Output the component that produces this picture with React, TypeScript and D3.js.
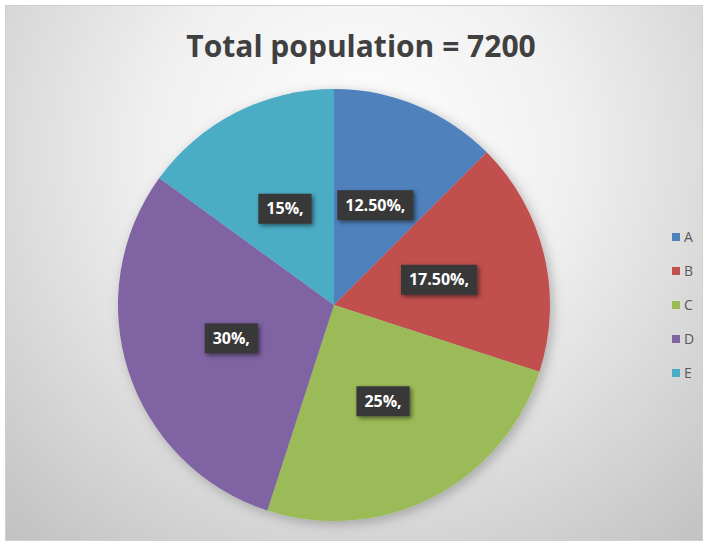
import React, { useEffect, useRef } from 'react';
import * as d3 from 'd3';

const categories = ['A', 'B', 'C', 'D', 'E'];
const shares = [12.5, 17.5, 25, 30, 15];
const labels = ['12.50%,', '17.50%,', '25%,', '30%,', '15%,'];
const colors = ['#4F81BD', '#C0504D', '#9BBB59', '#8064A2', '#4BACC6'];
const title = 'Total population = 7200';

const App = () => {
  const svgRef = useRef<SVGSVGElement>(null);

  useEffect(() => {
    const root = d3.select(svgRef.current);
    root.selectAll('*').remove();

    const width = 712;
    const height = 543;
    const cx = 334;
    const cy = 305;
    const radius = 216;

    const defs = root.append('defs');
    const bg = defs
      .append('radialGradient')
      .attr('id', 'bg')
      .attr('gradientUnits', 'userSpaceOnUse')
      .attr('cx', 360)
      .attr('cy', 150)
      .attr('r', 520);
    bg.append('stop').attr('offset', '0%').attr('stop-color', '#ffffff');
    bg.append('stop').attr('offset', '40%').attr('stop-color', '#f0f0f0');
    bg.append('stop').attr('offset', '100%').attr('stop-color', '#c2c2c2');

    const shadow = defs.append('filter').attr('id', 'pieShadow').attr('x', '-20%').attr('y', '-20%').attr('width', '140%').attr('height', '140%');
    shadow.append('feDropShadow').attr('dx', 3).attr('dy', 3).attr('stdDeviation', 6).attr('flood-color', '#000').attr('flood-opacity', 0.25);

    const boxShadow = defs.append('filter').attr('id', 'boxShadow').attr('x', '-30%').attr('y', '-30%').attr('width', '160%').attr('height', '160%');
    boxShadow.append('feDropShadow').attr('dx', 2).attr('dy', 2).attr('stdDeviation', 2).attr('flood-color', '#000').attr('flood-opacity', 0.5);

    root.append('rect').attr('width', width).attr('height', height).attr('fill', '#ffffff');
    root
      .append('rect')
      .attr('x', 5.5)
      .attr('y', 5.5)
      .attr('width', 697)
      .attr('height', 535)
      .attr('fill', 'url(#bg)')
      .attr('stroke', '#cfcfcf');

    // title
    root
      .append('text')
      .attr('x', 361)
      .attr('y', 57)
      .attr('text-anchor', 'middle')
      .style('font-family', '"Open Sans", "Noto Sans", sans-serif')
      .style('font-weight', 'bold')
      .style('font-size', '30px')
      .attr('fill', '#404040')
      .text(title);

    const pie = d3
      .pie<number>()
      .sort(null)
      .value((d) => d);
    const arcs = pie(shares);
    const arc = d3.arc<d3.PieArcDatum<number>>().innerRadius(0).outerRadius(radius);

    const g = root.append('g').attr('transform', `translate(${cx},${cy})`);
    g.append('g')
      .attr('filter', 'url(#pieShadow)')
      .selectAll('path')
      .data(arcs)
      .enter()
      .append('path')
      .attr('d', arc)
      .attr('fill', (d, i) => colors[i]);

    // data labels
    const lab = g
      .selectAll('.lab')
      .data(arcs)
      .enter()
      .append('g')
      .attr('class', 'lab')
      .attr('transform', (d) => {
        const [x, y] = arc.centroid(d);
        return `translate(${x},${y})`;
      });

    lab.each(function (d, i) {
      const sel = d3.select(this);
      const t = sel
        .append('text')
        .attr('text-anchor', 'middle')
        .attr('dy', '0.35em')
        .style('font-family', '"Open Sans", "Noto Sans", sans-serif')
        .style('font-weight', 'bold')
        .style('font-size', '16px')
        .attr('fill', '#ffffff')
        .text(labels[i]);
      const bb = (t.node() as SVGTextElement).getBBox();
      sel
        .insert('rect', 'text')
        .attr('x', bb.x - 8)
        .attr('y', -15)
        .attr('width', bb.width + 16)
        .attr('height', 30)
        .attr('fill', '#383838')
        .attr('filter', 'url(#boxShadow)');
    });

    // legend
    const legend = root
      .append('g')
      .selectAll('g')
      .data(categories)
      .enter()
      .append('g')
      .attr('transform', (d, i) => `translate(672,${237 + i * 34})`);
    legend
      .append('rect')
      .attr('x', 0)
      .attr('y', -4)
      .attr('width', 8)
      .attr('height', 8)
      .attr('fill', (d, i) => colors[i]);
    legend
      .append('text')
      .attr('x', 12)
      .attr('dy', '0.35em')
      .style('font-family', '"Open Sans", "Noto Sans", sans-serif')
      .style('font-size', '14px')
      .attr('fill', '#595959')
      .text((d) => d);
  }, []);

  return <svg ref={svgRef} width={712} height={543} style={{ position: 'absolute', left: 0, top: 0 }} />;
};

export default App;
